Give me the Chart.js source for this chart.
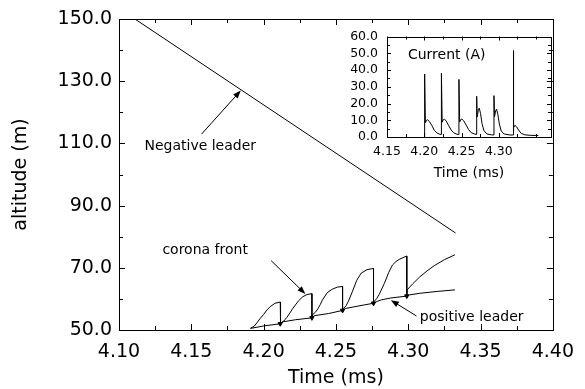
<!DOCTYPE html>
<html>
<head>
<meta charset="utf-8">
<script src="https://cdn.jsdelivr.net/npm/chart.js@4.4.0/dist/chart.umd.min.js"></script>
<style>
  html, body { margin: 0; padding: 0; background: #fff; }
  #wrap { position: relative; width: 585px; height: 389px; }
  #mainChart { position: absolute; left: 0; top: 0; }
  #insetChart { position: absolute; left: 330px; top: 20px; }
</style>
</head>
<body>
<div id="wrap">
  <canvas id="mainChart" width="585" height="389"></canvas>
  <canvas id="insetChart" width="255" height="165"></canvas>
</div>
<script>
// ---- main plot data (time in ms, altitude in m) ----
const negLeaderTime = [4.111, 4.3327];
const negLeaderAlt = [150.0, 81.2];

const posLeaderTime = [4.1909, 4.2000, 4.2115, 4.2130, 4.2220, 4.2334, 4.2350, 4.2450, 4.2546, 4.2565,
                       4.2620, 4.2700, 4.2760, 4.2785, 4.2815, 4.2880, 4.2990, 4.3010, 4.3080, 4.3200, 4.3323];
const posLeaderAlt = [50.5, 51.3, 52.0, 52.6, 53.3, 53.9, 54.6, 55.3, 56.3, 56.9,
                      57.4, 58.1, 58.6, 59.2, 59.7, 60.3, 60.9, 61.3, 61.8, 62.4, 62.9];

const coronaTime = [
  4.1909, 4.1935, 4.1955, 4.1978, 4.2000, 4.2022, 4.2045, 4.2079, 4.2115, 4.2115,
  4.2119, 4.2140, 4.2160, 4.2182, 4.2203, 4.2240, 4.2271, 4.2300, 4.2334, 4.2334,
  4.2340, 4.2358, 4.2375, 4.2392, 4.2406, 4.2440, 4.2474, 4.2510, 4.2546, 4.2546,
  4.2550, 4.2570, 4.2587, 4.2615, 4.2644, 4.2675, 4.2715, 4.2760, 4.2760,
  4.2765, 4.2782, 4.2800, 4.2835, 4.2865, 4.2891, 4.2915, 4.2937, 4.2990, 4.2990,
  4.2993, 4.3010, 4.3030, 4.3080, 4.3130, 4.3180, 4.3250, 4.3323
];
const coronaAlt = [
  50.6, 51.2, 52.4, 53.8, 55.0, 56.4, 57.5, 58.6, 59.0, 52.0,
  52.2, 52.9, 54.0, 55.5, 57.0, 59.3, 60.7, 61.4, 61.7, 53.9,
  55.0, 55.7, 56.8, 58.2, 59.6, 62.0, 63.1, 63.8, 64.0, 56.3,
  56.8, 57.8, 59.3, 62.5, 66.0, 68.3, 69.4, 69.8, 58.6,
  59.2, 60.1, 61.5, 65.0, 68.5, 70.9, 72.0, 72.7, 73.8, 60.9,
  62.9, 63.8, 64.8, 67.1, 69.0, 70.7, 72.6, 74.2
];

// bottoms of the corona front drops
const dropTime = [4.2115, 4.2334, 4.2546, 4.2760, 4.2990];
const dropAlt = [52.0, 53.9, 56.3, 58.6, 60.9];

const timeTicks = [4.10, 4.15, 4.20, 4.25, 4.30, 4.35, 4.40];
const altitudeTicks = [50, 70, 90, 110, 130, 150];

// ---- inset data (time in ms, current in A) ----
const currentTime = [
  4.2005, 4.2005, 4.2015, 4.2030, 4.2045, 4.2070, 4.2100, 4.2135, 4.2170, 4.2210, 4.2228,
  4.2230, 4.2240, 4.2255, 4.2270, 4.2295, 4.2325, 4.2360, 4.2395, 4.2440, 4.2463,
  4.2465, 4.2475, 4.2490, 4.2505, 4.2530, 4.2560, 4.2595, 4.2630, 4.2680, 4.2700,
  4.2703, 4.2710, 4.2725, 4.2738, 4.2755, 4.2775, 4.2800, 4.2840, 4.2900, 4.2932,
  4.2935, 4.2942, 4.2957, 4.2970, 4.2987, 4.3007, 4.3032, 4.3072, 4.3150, 4.3192,
  4.3195, 4.3200, 4.3215, 4.3240, 4.3265, 4.3300, 4.3350, 4.3420, 4.3530
];
const currentAmp = [
  0.0, 37.6, 8.5, 10.0, 10.3, 9.2, 7.0, 4.0, 2.4, 1.6, 1.5,
  38.0, 8.8, 10.3, 10.7, 9.5, 7.0, 4.2, 2.5, 1.6, 1.5,
  34.4, 9.0, 10.4, 10.7, 9.6, 7.2, 4.4, 2.6, 1.7, 1.5,
  24.3, 12.0, 16.0, 17.2, 14.0, 8.0, 3.8, 1.8, 1.3, 1.2,
  24.7, 12.0, 15.5, 16.6, 13.5, 7.8, 3.6, 1.8, 1.2, 1.2,
  51.6, 5.5, 7.0, 6.0, 4.2, 2.2, 1.3, 1.0, 0.9
];

const insetTimeTicks = [4.15, 4.20, 4.25, 4.30];
const currentTicks = [0, 10, 20, 30, 40, 50, 60];

const zip = (xs, ys) => xs.map((x, i) => ({ x: x, y: ys[i] }));
const halves = vals => vals.slice(1).map((v, i) => (v + vals[i]) / 2);

Chart.defaults.font.family = 'DejaVu Sans';
Chart.defaults.color = '#000';

// box around the plot area with inward tick marks on all four sides
const framePlugin = {
  id: 'frame',
  afterDraw(chart, args, opts) {
    const { ctx, chartArea: a, scales } = chart;
    const px = v => Math.round(v) + 0.5;
    ctx.save();
    ctx.strokeStyle = '#000';
    ctx.lineWidth = 1;
    ctx.strokeRect(px(a.left), px(a.top), Math.round(a.right) - Math.round(a.left), Math.round(a.bottom) - Math.round(a.top));
    ctx.beginPath();
    const xTick = (v, len) => {
      const p = px(scales.x.getPixelForValue(v));
      ctx.moveTo(p, a.bottom); ctx.lineTo(p, a.bottom - len);
      ctx.moveTo(p, a.top); ctx.lineTo(p, a.top + len);
    };
    const yTick = (v, len) => {
      const p = px(scales.y.getPixelForValue(v));
      ctx.moveTo(a.left, p); ctx.lineTo(a.left + len, p);
      ctx.moveTo(a.right, p); ctx.lineTo(a.right - len, p);
    };
    opts.xMajor.forEach(v => xTick(v, opts.major));
    opts.xMinor.forEach(v => xTick(v, opts.minor));
    opts.yMajor.forEach(v => yTick(v, opts.major));
    opts.yMinor.forEach(v => yTick(v, opts.minor));
    ctx.stroke();
    ctx.restore();
  }
};

// text labels and arrows placed in data coordinates
const notesPlugin = {
  id: 'notes',
  afterDraw(chart, args, opts) {
    const { ctx, scales: { x, y } } = chart;
    ctx.save();
    ctx.fillStyle = '#000';
    ctx.strokeStyle = '#000';
    ctx.lineWidth = 1;
    (opts.arrows || []).forEach(ar => {
      const x1 = x.getPixelForValue(ar.from[0]), y1 = y.getPixelForValue(ar.from[1]);
      const x2 = x.getPixelForValue(ar.to[0]), y2 = y.getPixelForValue(ar.to[1]);
      const ang = Math.atan2(y2 - y1, x2 - x1);
      ctx.beginPath();
      ctx.moveTo(x1, y1);
      ctx.lineTo(x2 - 6 * Math.cos(ang), y2 - 6 * Math.sin(ang));
      ctx.stroke();
      ctx.beginPath();
      ctx.moveTo(x2, y2);
      ctx.lineTo(x2 - 8 * Math.cos(ang) + 3 * Math.sin(ang), y2 - 8 * Math.sin(ang) - 3 * Math.cos(ang));
      ctx.lineTo(x2 - 8 * Math.cos(ang) - 3 * Math.sin(ang), y2 - 8 * Math.sin(ang) + 3 * Math.cos(ang));
      ctx.closePath();
      ctx.fill();
    });
    (opts.labels || []).forEach(lb => {
      ctx.font = lb.size + 'px "DejaVu Sans"';
      ctx.textAlign = lb.align || 'left';
      ctx.textBaseline = 'middle';
      ctx.fillText(lb.text, x.getPixelForValue(lb.t), y.getPixelForValue(lb.v));
    });
    ctx.restore();
  }
};

const lineStyle = { borderColor: '#000', borderWidth: 1, pointRadius: 0, tension: 0, fill: false };

new Chart(document.getElementById('mainChart'), {
  type: 'line',
  data: {
    datasets: [
      Object.assign({ label: 'Negative leader', data: zip(negLeaderTime, negLeaderAlt) }, lineStyle),
      Object.assign({ label: 'corona front', data: zip(coronaTime, coronaAlt) }, lineStyle),
      Object.assign({ label: 'positive leader', data: zip(posLeaderTime, posLeaderAlt) }, lineStyle),
      {
        label: 'drops', data: zip(dropTime, dropAlt), showLine: false,
        pointStyle: 'triangle', rotation: 180, pointRadius: 2.5,
        pointBackgroundColor: '#000', pointBorderColor: '#000', pointBorderWidth: 1
      }
    ]
  },
  options: {
    responsive: false,
    animation: false,
    layout: { padding: { top: 19, right: 23, left: 0, bottom: 0 } },
    scales: {
      x: {
        type: 'linear', min: 4.10, max: 4.40,
        afterBuildTicks: s => { s.ticks = timeTicks.map(v => ({ value: v })); },
        afterFit: s => { s.height = 59; },
        grid: { display: false, drawTicks: false },
        border: { display: false },
        ticks: { autoSkip: false, maxRotation: 0, padding: 11, font: { size: 19 }, callback: v => Number(v).toFixed(2) },
        title: { display: true, text: 'Time (ms)', font: { size: 19 }, padding: { top: 0, bottom: 0 } }
      },
      y: {
        type: 'linear', min: 50, max: 150,
        afterBuildTicks: s => { s.ticks = altitudeTicks.map(v => ({ value: v })); },
        afterFit: s => { s.width = 119; },
        grid: { display: false, drawTicks: false },
        border: { display: false },
        ticks: { autoSkip: false, padding: 7, font: { size: 19 }, callback: v => Number(v).toFixed(1) },
        title: { display: true, text: 'altitude (m)', font: { size: 19 }, padding: { top: 10, bottom: 0 } }
      }
    },
    plugins: {
      legend: { display: false },
      tooltip: { enabled: false },
      frame: {
        xMajor: timeTicks, xMinor: halves(timeTicks),
        yMajor: altitudeTicks, yMinor: halves(altitudeTicks),
        major: 6, minor: 4
      },
      notes: {
        arrows: [
          { from: [4.1571, 113.0], to: [4.1842, 127.0] },
          { from: [4.2052, 72.3], to: [4.2289, 61.6] },
          { from: [4.3057, 54.5], to: [4.2880, 59.6] }
        ],
        labels: [
          { text: 'Negative leader', t: 4.1176, v: 108.9, size: 14 },
          { text: 'corona front', t: 4.1300, v: 75.7, size: 14 },
          { text: 'positive leader', t: 4.3080, v: 54.2, size: 14 }
        ]
      }
    }
  },
  plugins: [framePlugin, notesPlugin]
});

new Chart(document.getElementById('insetChart'), {
  type: 'line',
  data: {
    datasets: [
      Object.assign({ label: 'Current (A)', data: zip(currentTime, currentAmp) }, lineStyle)
    ]
  },
  options: {
    responsive: false,
    animation: false,
    layout: { padding: { top: 13, right: 34, left: 0, bottom: 0 } },
    scales: {
      x: {
        type: 'linear', min: 4.15, max: 4.37,
        afterBuildTicks: s => { s.ticks = insetTimeTicks.map(v => ({ value: v })); },
        afterFit: s => { s.height = 48; },
        grid: { display: false, drawTicks: false },
        border: { display: false },
        ticks: { autoSkip: false, maxRotation: 0, padding: 7, font: { size: 12.5 }, callback: v => Number(v).toFixed(2) },
        title: { display: true, text: 'Time (ms)', font: { size: 14 }, padding: { top: 0, bottom: 3 } }
      },
      y: {
        type: 'linear', min: 0, max: 60,
        afterBuildTicks: s => { s.ticks = currentTicks.map(v => ({ value: v })); },
        afterFit: s => { s.width = 57; },
        grid: { display: false, drawTicks: false },
        border: { display: false },
        ticks: { autoSkip: false, padding: 9, font: { size: 12.5 }, callback: v => Number(v).toFixed(1) }
      }
    },
    plugins: {
      legend: { display: false },
      tooltip: { enabled: false },
      frame: {
        xMajor: insetTimeTicks, xMinor: halves(insetTimeTicks).concat([4.325, 4.35]),
        yMajor: currentTicks, yMinor: halves(currentTicks),
        major: 4, minor: 3
      },
      notes: {
        labels: [
          { text: 'Current (A)', t: 4.2301, v: 48.8, size: 14, align: 'center' }
        ]
      }
    }
  },
  plugins: [framePlugin, notesPlugin]
});
</script>
</body>
</html>
